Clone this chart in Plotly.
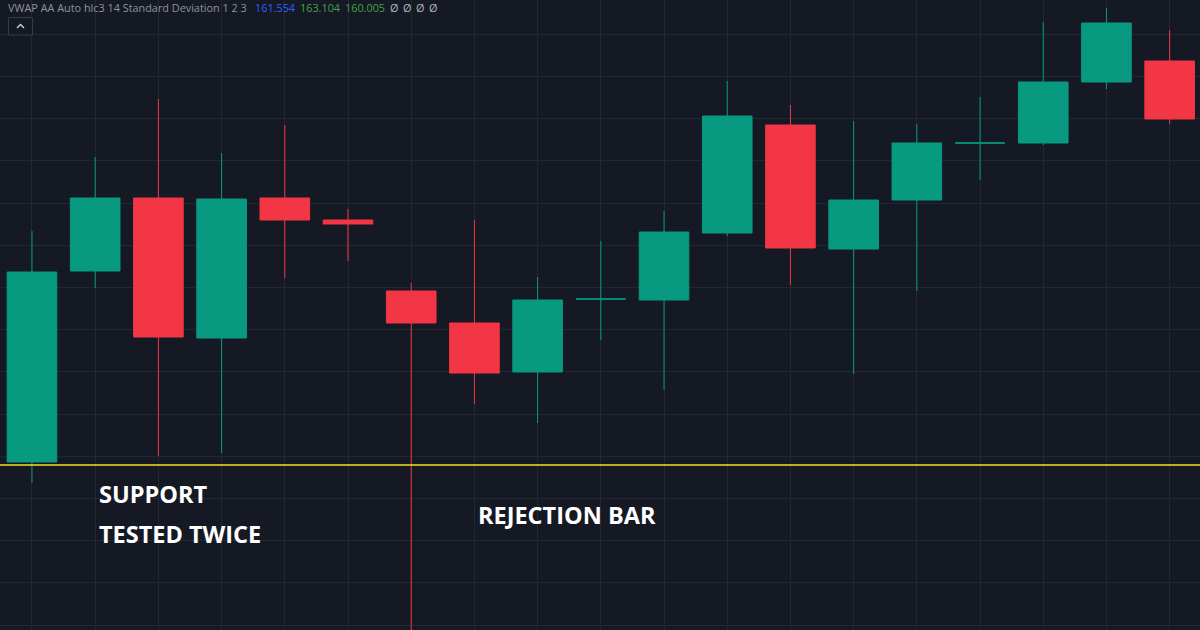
import plotly.graph_objects as go

# Price scale is arbitrary: the source shows no price axis.
bar_index = list(range(19))
open_prices = [116.8, 135.9, 143.2, 129.2, 143.2, 141.0, 133.9, 130.7, 125.8, 133.1, 133.0, 139.7, 150.5, 138.1, 143.0, 148.7, 148.7, 154.8, 156.9]
close_prices = [135.8, 143.2, 129.3, 143.1, 141.0, 140.6, 130.7, 125.7, 133.0, 133.1, 139.8, 151.4, 138.2, 143.0, 148.7, 148.7, 154.8, 160.7, 151.1]
high_prices = [139.9, 147.3, 153.1, 147.7, 150.5, 142.1, 134.7, 141.0, 135.3, 138.9, 141.9, 154.9, 152.5, 150.9, 150.6, 153.3, 160.8, 162.2, 160.0]
low_prices = [114.7, 134.2, 117.4, 117.7, 135.2, 136.9, 90.0, 122.6, 120.7, 129.0, 124.0, 139.4, 134.5, 125.6, 133.9, 145.0, 148.5, 154.1, 150.6]
support_level = 116.5

legend_title = "VWAP AA Auto hlc3 14 Standard Deviation 1 2 3"
legend_values = ["161.554", "163.104", "160.005"]
legend_empty = ["Ø", "Ø", "Ø", "Ø"]
label_support = ["SUPPORT", "TESTED TWICE"]
label_rejection = "REJECTION BAR"

UP = "#089981"
DOWN = "#F23645"
BG = "#151924"
GRID = "#232732"

fig = go.Figure()
fig.add_trace(go.Candlestick(
    x=bar_index, open=open_prices, high=high_prices, low=low_prices, close=close_prices,
    whiskerwidth=0,
    increasing=dict(line=dict(color=UP, width=1), fillcolor=UP),
    decreasing=dict(line=dict(color=DOWN, width=1), fillcolor=DOWN),
    showlegend=False,
))
fig.add_trace(go.Scatter(
    x=[-0.6, 18.6], y=[support_level, support_level], mode="lines",
    line=dict(color="#F2E41B", width=1.7), showlegend=False, hoverinfo="skip",
))

def note(x, y, text, size, color, weight="normal", family="Open Sans"):
    fig.add_annotation(
        xref="paper", yref="paper", x=x / 1200, y=1 - y / 630, text=text, showarrow=False,
        xanchor="left", yanchor="middle",
        font=dict(size=size, color=color, family=family, weight=weight),
        borderpad=0, borderwidth=0,
    )

note(8, 7.5, legend_title, 10.85, "#8f939d")
note(255, 7.5, legend_values[0], 10.85, "#2962FF")
note(300, 7.5, legend_values[1], 10.85, "#43A047")
note(345, 7.5, legend_values[2], 10.85, "#43A047")
for px, sym in zip([390, 403, 416, 429], legend_empty):
    note(px, 7.5, sym, 10.85, "#b2b5be")
note(99, 494, label_support[0], 23.5, "#FFFFFF", "bold")
note(99, 534, label_support[1], 23.5, "#FFFFFF", "bold")
note(478, 515, label_rejection, 23.5, "#FFFFFF", "bold")

# Collapse button beneath the legend
fig.add_shape(type="rect", xref="paper", yref="paper", x0=8.5 / 1200, x1=32.5 / 1200,
              y0=1 - 35 / 630, y1=1 - 17.5 / 630,
              line=dict(color="#363A45", width=1), fillcolor=BG)
fig.add_shape(type="path", xref="paper", yref="paper",
              path=f"M {17/1200} {1-28/630} L {20.5/1200} {1-24.5/630} L {24/1200} {1-28/630}",
              line=dict(color="#D1D4DC", width=1.3))

fig.update_layout(
    width=1200, height=630,
    autosize=False,
    margin=dict(l=0, r=0, t=0, b=0),
    paper_bgcolor=BG, plot_bgcolor=BG,
    boxgap=0.215, boxgroupgap=0,
    showlegend=False,
    xaxis=dict(
        range=[-0.506, 18.48], rangeslider=dict(visible=False), showticklabels=False,
        tick0=0, dtick=1, showgrid=True, gridcolor=GRID, gridwidth=1, zeroline=False,
        ticks="", showline=False,
    ),
    yaxis=dict(
        range=[100, 163], showticklabels=False, tick0=100.5, dtick=4.22,
        showgrid=True, gridcolor=GRID, gridwidth=1, zeroline=False, ticks="", showline=False,
    ),
)
fig.write_html(
    "out.html",
    config={"displayModeBar": False},
    post_script="document.body.style.margin='0';document.body.style.background='#151924';"
                "document.documentElement.style.overflow='hidden';",
)
